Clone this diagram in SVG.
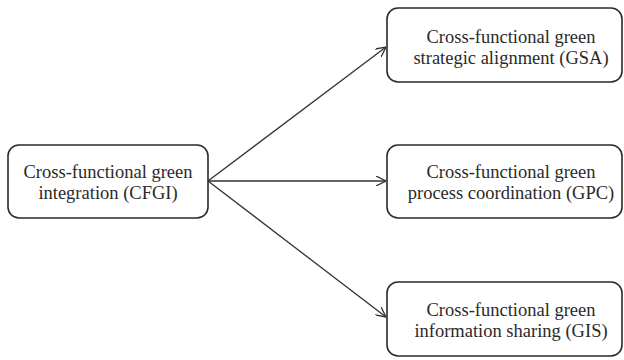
<svg xmlns="http://www.w3.org/2000/svg" width="624" height="360" viewBox="0 0 624 360">
<style>
.box{fill:#fff;stroke:#2a2a2a;stroke-width:1.6}
.t{font-family:'Liberation Serif','DejaVu Serif','Times New Roman',serif;font-size:18.5px;fill:#2a2a2a;text-anchor:middle}
.c{stroke:#333;stroke-width:1.3;fill:none}
</style>
<defs>
<marker id="ah" viewBox="0 0 10 10" refX="10" refY="5" markerWidth="10" markerHeight="10" markerUnits="userSpaceOnUse" orient="auto">
<path d="M0,0 L10,5 L0,10" fill="none" stroke="#333" stroke-width="1.3"/>
</marker>
</defs>
<rect width="624" height="360" fill="#fff"/>
<g id="connectors">
<line class="c" x1="208" y1="181" x2="386" y2="47" marker-end="url(#ah)"/>
<line class="c" x1="208" y1="181" x2="386" y2="181" marker-end="url(#ah)"/>
<line class="c" x1="208" y1="181" x2="386" y2="317" marker-end="url(#ah)"/>
</g>
<g id="cfgi">
<rect class="box" x="8" y="145" width="200" height="73" rx="11"/>
<text class="t" x="108" y="178" font-family="Liberation Serif, serif">Cross-functional green</text>
<text class="t" x="108" y="199" font-family="Liberation Serif, serif">integration (CFGI)</text>
</g>
<g id="gsa">
<rect class="box" x="387" y="8" width="235" height="74" rx="11"/>
<text class="t" x="511" y="43">Cross-functional green</text>
<text class="t" x="511" y="64">strategic alignment (GSA)</text>
</g>
<g id="gpc">
<rect class="box" x="387" y="145" width="235" height="73" rx="11"/>
<text class="t" x="511" y="178">Cross-functional green</text>
<text class="t" x="511" y="199">process coordination (GPC)</text>
</g>
<g id="gis">
<rect class="box" x="387" y="282" width="235" height="74" rx="11"/>
<text class="t" x="511" y="316">Cross-functional green</text>
<text class="t" x="511" y="337">information sharing (GIS)</text>
</g>
</svg>
